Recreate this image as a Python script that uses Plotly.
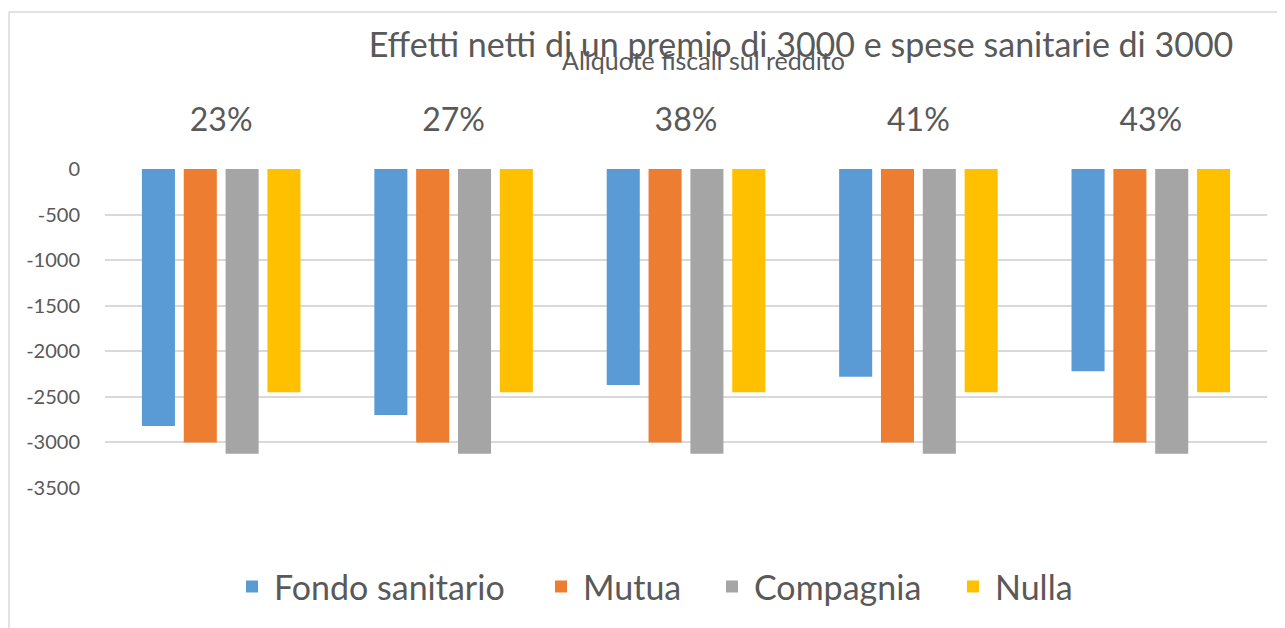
import plotly.graph_objects as go

# Aliquote fiscali (categorie sull'asse x)
aliquote = ['23%', '27%', '38%', '41%', '43%']

# Effetti netti per tipo di copertura
fondo_sanitario = [-2820, -2700, -2370, -2280, -2220]
mutua = [-3000, -3000, -3000, -3000, -3000]
compagnia = [-3125, -3125, -3125, -3125, -3125]
nulla = [-2450, -2450, -2450, -2450, -2450]

y_ticks = [0, -500, -1000, -1500, -2000, -2500, -3000, -3500]

serie = [
    ('Fondo sanitario', fondo_sanitario, '#5b9bd5'),
    ('Mutua', mutua, '#ed7d31'),
    ('Compagnia', compagnia, '#a5a5a5'),
    ('Nulla', nulla, '#ffc000'),
]

font = 'Lato, Open Sans, sans-serif'
grey = '#595959'

# a legend per series so the entries can be spaced like the original
legend_ids = ['legend', 'legend2', 'legend3', 'legend4']
legend_x = [222, 531, 702, 943]

fig = go.Figure()
for (name, vals, col), lid in zip(serie, legend_ids):
    fig.add_trace(go.Bar(x=aliquote, y=vals, name=name, marker_color=col,
                         marker_line_width=0, legend=lid))

L, R, T, B = 97, 26, 161, 148
pw = 1285 - L - R
ph = 628 - T - B

legends = {}
for lid, lx in zip(legend_ids, legend_x):
    legends[lid] = dict(orientation='h', x=(lx - L) / pw, xanchor='left',
                        y=-0.31, yanchor='middle', itemwidth=34,
                        font=dict(size=34, color=grey, family=font),
                        bgcolor='rgba(0,0,0,0)')

fig.update_layout(
    width=1285, height=628,
    margin=dict(l=L, r=R, t=T, b=B),
    paper_bgcolor='white', plot_bgcolor='white',
    font=dict(family=font, color=grey),
    barmode='group', bargap=0.28, bargroupgap=0.21,
    title=dict(text='Effetti netti di un premio di 3000 e spese sanitarie di 3000',
               x=793 / 1285, xanchor='center', y=0.941, yanchor='middle',
               font=dict(size=34, color=grey, family=font)),
    showlegend=True,
    **legends,
)

fig.update_xaxes(side='top', showline=False, showgrid=False, automargin=False,
                 ticks='outside', ticklen=24, tickcolor='rgba(0,0,0,0)',
                 tickfont=dict(size=32, color=grey))
fig.update_yaxes(range=[-3500, 0], tickvals=y_ticks, ticktext=[str(v) for v in y_ticks],
                 showgrid=True, gridcolor='#d9d9d9', gridwidth=1.5, automargin=False,
                 zeroline=False, showline=False,
                 tickfont=dict(size=20, color=grey), ticks='outside', ticklen=20,
                 tickcolor='rgba(0,0,0,0)')

# titolo dell'asse x (posizionato come nell'originale, sopra le etichette)
fig.add_annotation(text='Aliquote fiscali sul reddito', xref='paper', yref='paper',
                   x=(695 - L) / pw, y=1 + (T - 52) / ph, xanchor='center', yanchor='middle',
                   showarrow=False, font=dict(size=25, color=grey, family=font))

# bordo del grafico (alto e sinistra)
fig.add_shape(type='line', xref='paper', yref='paper', x0=(1 - L) / pw, x1=1.05,
              y0=1 + (T - 4) / ph, y1=1 + (T - 4) / ph, line=dict(color='#d9d9d9', width=1.5))
fig.add_shape(type='line', xref='paper', yref='paper', x0=(1 - L) / pw, x1=(1 - L) / pw,
              y0=1 + (T - 4) / ph, y1=-0.5, line=dict(color='#d9d9d9', width=1.5))

fig.write_html('out.html')
